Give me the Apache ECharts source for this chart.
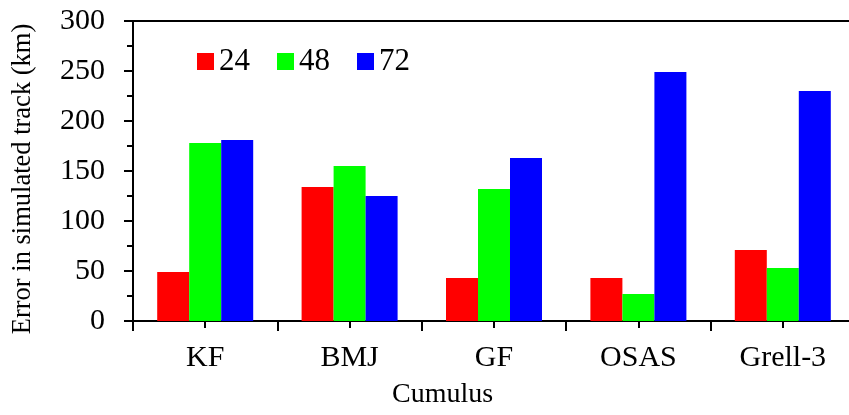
<!DOCTYPE html>
<html><head><meta charset="utf-8">
<script src="https://cdn.jsdelivr.net/npm/echarts@6/dist/echarts.min.js"></script>
<style>html,body{margin:0;padding:0;background:#fff}#c{width:849px;height:415px}</style>
</head><body><div id="c"></div>
<script>
const categories = ['KF', 'BMJ', 'GF', 'OSAS', 'Grell-3'];
const seriesNames = ['24', '48', '72'];
const values24 = [49, 134, 43, 43, 71];
const values48 = [178, 155, 132, 27, 53];
const values72 = [181, 125, 163, 249, 230];
const colors = ['#ff0000', '#00ff00', '#0000ff'];
const yTicks = [0, 50, 100, 150, 200, 250, 300];

const FONT = '"Liberation Serif", "Times New Roman", serif';
const chart = echarts.init(document.getElementById('c'), null, {renderer: 'canvas'});
const allVals = [values24, values48, values72];
chart.setOption({
  animation: false,
  backgroundColor: '#fff',
  textStyle: {fontFamily: FONT, color: '#000'},
  grid: {left: 133, top: 21, width: 722, height: 300, containLabel: false, outerBoundsMode: 'none'},
  legend: {
    data: seriesNames, left: 192, top: 41, itemWidth: 17, itemHeight: 17, itemGap: 27,
    icon: 'rect', textStyle: {fontFamily: FONT, fontSize: 31, color: '#000'}
  },
  xAxis: [
    {type: 'category', data: categories, position: 'bottom',
     axisLine: {show: true, lineStyle: {color: '#000', width: 2}},
     axisTick: {show: true, length: 10, inside: false, lineStyle: {color: '#000', width: 2}},
     axisLabel: {fontFamily: FONT, fontSize: 30, color: '#000', margin: 22},
     splitLine: {show: false}},
    {type: 'category', data: categories, position: 'bottom',
     axisLine: {show: false},
     axisTick: {show: true, alignWithLabel: true, length: 7, lineStyle: {color: '#000', width: 2}},
     axisLabel: {show: false}, splitLine: {show: false}},
    {type: 'category', data: categories, position: 'top',
     axisLine: {show: true, lineStyle: {color: '#000', width: 2}},
     axisTick: {show: false}, axisLabel: {show: false}, splitLine: {show: false}}
  ],
  yAxis: {
    type: 'value', min: yTicks[0], max: yTicks[yTicks.length - 1], interval: 50,
    name: 'Error in simulated track (km)', nameLocation: 'middle', nameGap: 96,
    nameTextStyle: {fontFamily: FONT, fontSize: 26.5, color: '#000', padding: [0, 16, 0, 0]},
    axisLine: {show: true, lineStyle: {color: '#000', width: 2}},
    axisTick: {show: true, length: 9, lineStyle: {color: '#000', width: 2}},
    minorTick: {show: true, splitNumber: 2, length: 6, lineStyle: {color: '#000', width: 2}},
    axisLabel: {fontFamily: FONT, fontSize: 30, color: '#000', margin: 28},
    splitLine: {show: false}, minorSplitLine: {show: false}
  },
  graphic: [{
    type: 'text', left: 444 - 52, top: 381,
    style: {text: 'Cumulus', font: '28px ' + FONT, fill: '#000'}
  }],
  series: seriesNames.map((n, i) => ({
    name: n, type: 'bar', data: allVals[i], xAxisIndex: 0,
    barWidth: 32, barGap: '0%', itemStyle: {color: colors[i]}
  }))
});
</script></body></html>
